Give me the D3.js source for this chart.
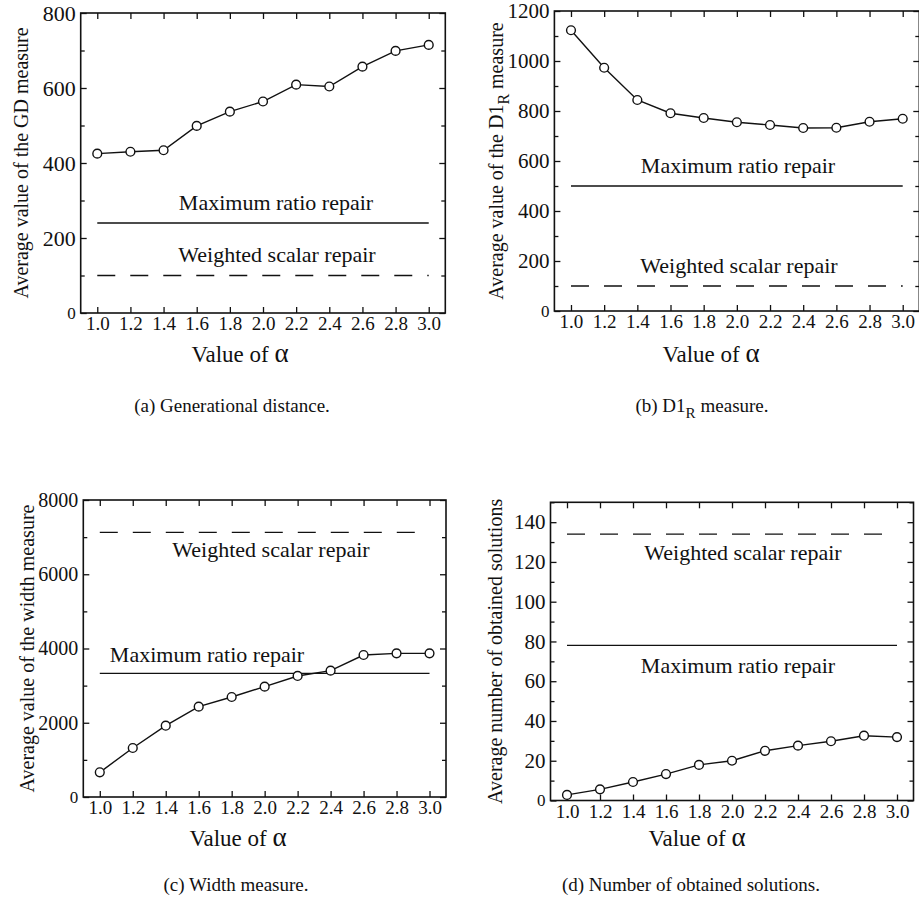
<!DOCTYPE html>
<html>
<head>
<meta charset="utf-8">
<script src="https://cdn.jsdelivr.net/npm/d3@7"></script>
<style>
  body { margin: 0; background: #fff; }
  svg text { font-family: "Liberation Serif", "Times New Roman", serif; fill: #111; }
</style>
</head>
<body>
<svg id="chart" width="919" height="905"></svg>
<script>
// values of alpha along the x axis
var alphaValues = [1.0, 1.2, 1.4, 1.6, 1.8, 2.0, 2.2, 2.4, 2.6, 2.8, 3.0];
var xTickLabels = ["1.0", "1.2", "1.4", "1.6", "1.8", "2.0", "2.2", "2.4", "2.6", "2.8", "3.0"];

// series
var gdValues = [425, 430, 434, 499, 537, 564, 609, 604, 657, 699, 715];
var d1rValues = [1123, 973, 844, 791, 772, 755, 744, 732, 733, 757, 769];
var widthValues = [665, 1320, 1921, 2433, 2694, 2973, 3260, 3403, 3825, 3870, 3870];
var solutionValues = [2.8, 5.6, 9.3, 13.3, 17.9, 20.0, 25.0, 27.6, 29.8, 32.6, 31.9];

// constant reference lines (a, b, c, d)
var maxRatioRepair = [240, 500, 3330, 78];
var weightedScalarRepair = [100, 100, 7130, 134];

// y axis ranges and ticks (a, b, c, d)
var yMaxValues = [800, 1200, 8000, 150];
var yMajorSteps = [200, 200, 2000, 20];
var yMinorSteps = [100, 100, 1000, 10];

var svg = d3.select("#chart");
var serif = "\"Liberation Serif\", \"Times New Roman\", serif";

// layout of each panel, in pixels
var panels = [
  {values: gdValues, left: 80.7, right: 445.3, top: 13, bottom: 313, tickFont: 22,
   ylabel: ["Average value of the GD measure"], ylabelX: 28,
   xtitleX: 240, xtitleY: 362, caption: ["(a) Generational distance."], capX: 232, capY: 412,
   maxLabel: {x: 276, y: 210}, wLabel: {x: 277, y: 262}},
  {values: d1rValues, left: 554.4, right: 919.3, top: 11, bottom: 311, tickFont: 21,
   ylabel: ["Average value of the D1", "R", " measure"], ylabelX: 503,
   xtitleX: 711, xtitleY: 362, caption: ["(b) D1", "R", " measure."], capX: 702, capY: 412,
   maxLabel: {x: 738, y: 173}, wLabel: {x: 739, y: 273}},
  {values: widthValues, left: 83.3, right: 446, top: 500, bottom: 797, tickFont: 20,
   ylabel: ["Average value of the width measure"], ylabelX: 34,
   xtitleX: 238, xtitleY: 846, caption: ["(c) Width measure."], capX: 236, capY: 891,
   maxLabel: {x: 207, y: 662}, wLabel: {x: 271, y: 557}},
  {values: solutionValues, left: 550.5, right: 913.5, top: 502.3, bottom: 800.5, tickFont: 21,
   ylabel: ["Average number of obtained solutions"], ylabelX: 502,
   xtitleX: 697, xtitleY: 846, caption: ["(d) Number of obtained solutions."], capX: 691, capY: 891,
   maxLabel: {x: 738, y: 673}, wLabel: {x: 743, y: 560}}
];

function addText(sel, parts, size) {
  // parts: [main, subscript, rest]
  sel.append("tspan").text(parts[0]);
  if (parts.length > 1) {
    sel.append("tspan").attr("dy", size * 0.3).attr("font-size", size * 0.8).text(parts[1]);
    sel.append("tspan").attr("dy", -size * 0.3).text(parts[2]);
  }
}

panels.forEach(function(p, i) {
  var g = svg.append("g");
  var x = d3.scaleLinear().domain([0.9, 3.1]).range([p.left, p.right]);
  var y = d3.scaleLinear().domain([0, yMaxValues[i]]).range([p.bottom, p.top]);

  var majors = d3.range(0, yMaxValues[i] + 0.001, yMajorSteps[i]);
  var minors = d3.range(0, yMaxValues[i] + 0.001, yMinorSteps[i]).filter(function(v) {
    return majors.indexOf(v) < 0;
  });

  // x ticks, bottom with labels, top without
  var xb = g.append("g").attr("transform", "translate(0," + p.bottom + ")")
    .call(d3.axisBottom(x).tickValues(alphaValues).tickSize(-6).tickPadding(4)
      .tickFormat(function(d, k) { return xTickLabels[k]; }));
  xb.selectAll("text").attr("font-size", 19).attr("font-family", serif).attr("fill", "#111");
  g.append("g").attr("transform", "translate(0," + p.top + ")")
    .call(d3.axisTop(x).tickValues(alphaValues).tickSize(-6).tickFormat(""));

  // y ticks, left with labels, right without
  var yl = g.append("g").attr("transform", "translate(" + p.left + ",0)")
    .call(d3.axisLeft(y).tickValues(majors).tickSize(-6).tickPadding(5).tickFormat(d3.format("d")));
  yl.selectAll("text").attr("font-size", function(d) { return d === 0 ? 17 : p.tickFont; })
    .attr("font-family", serif).attr("fill", "#111");
  g.append("g").attr("transform", "translate(" + p.right + ",0)")
    .call(d3.axisRight(y).tickValues(majors).tickSize(-6).tickFormat(""));
  g.append("g").attr("transform", "translate(" + p.left + ",0)")
    .call(d3.axisLeft(y).tickValues(minors).tickSize(-4).tickFormat(""));
  g.append("g").attr("transform", "translate(" + p.right + ",0)")
    .call(d3.axisRight(y).tickValues(minors).tickSize(-4).tickFormat(""));

  g.selectAll(".domain").remove();
  g.selectAll(".tick line").attr("stroke", "#111").attr("stroke-width", 1.3);

  // frame
  g.append("rect").attr("x", p.left).attr("y", p.top)
    .attr("width", p.right - p.left).attr("height", p.bottom - p.top)
    .attr("fill", "none").attr("stroke", "#111").attr("stroke-width", 1.6);

  // reference lines
  g.append("line").attr("x1", x(1.0)).attr("x2", x(3.0))
    .attr("y1", y(maxRatioRepair[i])).attr("y2", y(maxRatioRepair[i]))
    .attr("stroke", "#111").attr("stroke-width", 1.3);
  g.append("line").attr("x1", x(1.0)).attr("x2", x(3.0))
    .attr("y1", y(weightedScalarRepair[i])).attr("y2", y(weightedScalarRepair[i]))
    .attr("stroke", "#111").attr("stroke-width", 1.3).attr("stroke-dasharray", "18,15");

  g.append("text").attr("x", p.maxLabel.x).attr("y", p.maxLabel.y)
    .attr("text-anchor", "middle").attr("font-size", 22).text("Maximum ratio repair");
  g.append("text").attr("x", p.wLabel.x).attr("y", p.wLabel.y)
    .attr("text-anchor", "middle").attr("font-size", 22).text("Weighted scalar repair");

  // series line and circles
  var line = d3.line().x(function(d, k) { return x(alphaValues[k]); }).y(function(d) { return y(d); });
  g.append("path").datum(p.values).attr("d", line)
    .attr("fill", "none").attr("stroke", "#111").attr("stroke-width", 1.4);
  g.selectAll("circle.pt").data(p.values).enter().append("circle")
    .attr("cx", function(d, k) { return x(alphaValues[k]); })
    .attr("cy", function(d) { return y(d); })
    .attr("r", 4.4).attr("fill", "#fff").attr("stroke", "#111").attr("stroke-width", 1.4);

  // y axis title
  var yt = g.append("text").attr("text-anchor", "middle").attr("font-size", 20)
    .attr("transform", "translate(" + p.ylabelX + "," + ((p.top + p.bottom) / 2) + ") rotate(-90)");
  addText(yt, p.ylabel, 20);

  // x axis title
  var xtl = g.append("text").attr("x", p.xtitleX).attr("y", p.xtitleY)
    .attr("text-anchor", "middle").attr("font-size", 23);
  xtl.append("tspan").text("Value of ");
  xtl.append("tspan").attr("font-size", 27).text("\u03b1");

  // caption
  var cap = g.append("text").attr("x", p.capX).attr("y", p.capY)
    .attr("text-anchor", "middle").attr("font-size", 19);
  addText(cap, p.caption, 19);
});
</script>
</body>
</html>
